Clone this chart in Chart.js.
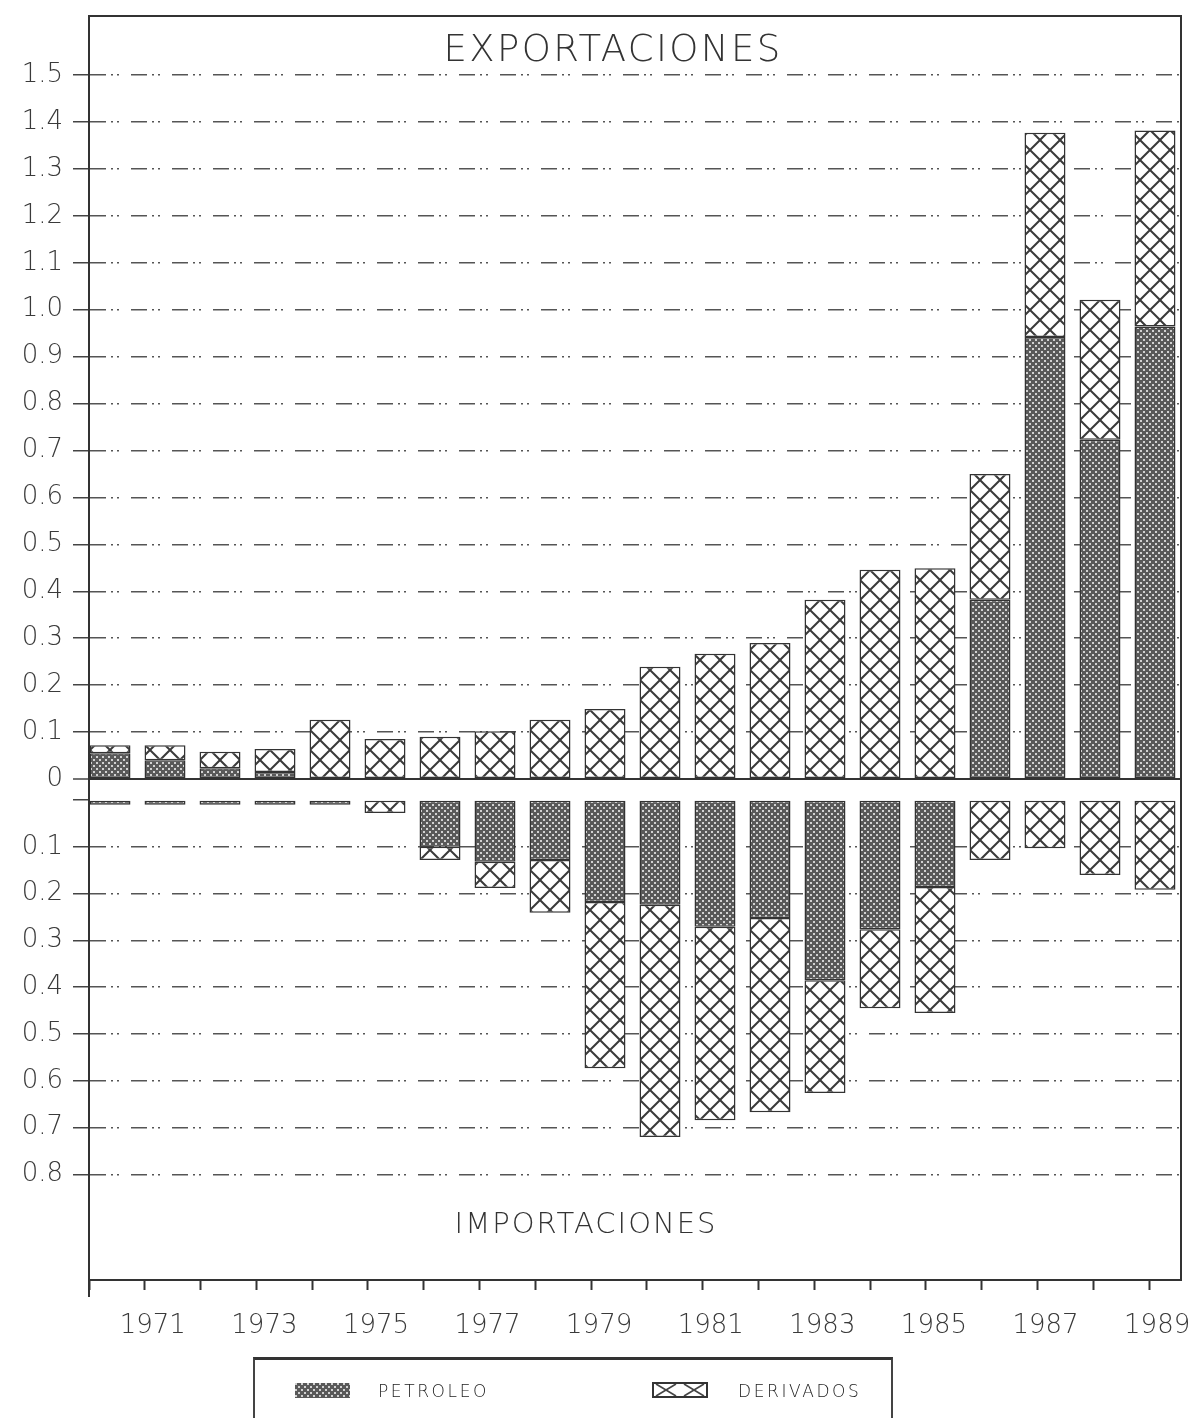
<!DOCTYPE html>
<html>
<head>
<meta charset="utf-8">
<script src="https://cdn.jsdelivr.net/npm/chart.js@4.4.1/dist/chart.umd.min.js"></script>
<style>
html,body{margin:0;padding:0;background:#fff;overflow:hidden;}
#wrap{position:relative;width:1196px;height:1418px;overflow:hidden;}
#c{position:absolute;left:0;top:0;}
.t{position:absolute;font-family:'DejaVu Sans',sans-serif;font-weight:200;color:#333;white-space:nowrap;transform:translate(-50%,-50%);}
#t1{left:613px;top:48px;font-size:37px;letter-spacing:2.4px;}
#t2{left:586px;top:1223px;font-size:29px;letter-spacing:2px;}
#legend{position:absolute;left:253px;top:1357px;width:636px;height:100px;border-top:3px solid #333;border-left:2px solid #444;border-right:2px solid #444;}
#legend canvas{position:absolute;}
#legend span{position:absolute;font-family:'DejaVu Sans',sans-serif;font-weight:200;font-size:17px;letter-spacing:2.6px;color:#222;transform:translateY(-50%);white-space:nowrap;}
</style>
</head>
<body>
<div id="wrap">
  <canvas id="c" width="1196" height="1418"></canvas>
  <div class="t" id="t1">EXPORTACIONES</div>
  <div class="t" id="t2">IMPORTACIONES</div>
  <div id="legend">
    <canvas id="sw1" width="55" height="15" style="left:40px;top:23px"></canvas>
    <span style="left:123px;top:31px">PETROLEO</span>
    <canvas id="sw2" width="56" height="16" style="left:397px;top:22px"></canvas>
    <span style="left:483px;top:31px">DERIVADOS</span>
  </div>
</div>
<script>
// ---- data ----
const years = [1970,1971,1972,1973,1974,1975,1976,1977,1978,1979,1980,1981,1982,1983,1984,1985,1986,1987,1988,1989];
const tickYears = [1971,1973,1975,1977,1979,1981,1983,1985,1987,1989];
const expTicks = [0,0.1,0.2,0.3,0.4,0.5,0.6,0.7,0.8,0.9,1.0,1.1,1.2,1.3,1.4,1.5];
const impTicks = [0,0.1,0.2,0.3,0.4,0.5,0.6,0.7,0.8];
const expPetroleo  = [0.055,0.040,0.023,0.015,0,0,0,0,0,0,0,0,0,0,0,0,0.382,0.942,0.723,0.964];
const expDerivados = [0.017,0.032,0.035,0.049,0.126,0.085,0.090,0.102,0.126,0.149,0.239,0.267,0.290,0.382,0.446,0.449,0.268,0.435,0.298,0.418];
const impPetroleo  = [0.010,0.010,0.010,0.010,0.010,0,0.100,0.132,0.128,0.218,0.224,0.271,0.252,0.385,0.276,0.186,0,0,0,0];
const impDerivados = [0,0,0,0,0,0.028,0.028,0.056,0.113,0.355,0.496,0.413,0.415,0.241,0.169,0.269,0.128,0.103,0.160,0.192];

// ---- patterns ----
function dotTile(){
  const c=document.createElement('canvas'); c.width=6; c.height=6;
  const g=c.getContext('2d');
  g.fillStyle='#595959'; g.fillRect(0,0,6,6);
  g.fillStyle='#d2d2d2'; g.fillRect(0,0,2,2); g.fillRect(3,3,2,2);
  return c;
}
function crossTile(){
  const n=20; const c=document.createElement('canvas'); c.width=n; c.height=n;
  const g=c.getContext('2d');
  g.fillStyle='#ffffff'; g.fillRect(0,0,n,n);
  g.strokeStyle='#3a3a3a'; g.lineWidth=2;
  for(const k of [-n,0,n]){
    g.beginPath(); g.moveTo(-5,-5+k); g.lineTo(n+5,n+5+k); g.stroke();
    g.beginPath(); g.moveTo(n+5,-5+k); g.lineTo(-5,n+5+k); g.stroke();
  }
  return c;
}
const ctx0=document.getElementById('c').getContext('2d');
const dots=ctx0.createPattern(dotTile(),'repeat');
const cross=ctx0.createPattern(crossTile(),'repeat');

// legend swatches
(function(){
  const a=document.getElementById('sw1').getContext('2d');
  a.fillStyle=a.createPattern(dotTile(),'repeat'); a.fillRect(0,0,55,15);
  const b=document.getElementById('sw2').getContext('2d');
  b.fillStyle='#fff'; b.fillRect(0,0,56,16);
  b.strokeStyle='#444'; b.lineWidth=1.6;
  for(const x0 of [0,28]){
    b.beginPath(); b.moveTo(x0+4,2); b.lineTo(x0+24,14); b.stroke();
    b.beginPath(); b.moveTo(x0+24,2); b.lineTo(x0+4,14); b.stroke();
  }
  b.strokeStyle='#333'; b.lineWidth=2; b.strokeRect(1,1,54,14);
})();

// ---- chart ----
const FONT='DejaVu Sans';
const xMin=1969.618, xMax=1989.473, tickStep=1.0145;
const dashPat=[16,5,2,4,2,12];
const border='#333';
const labelColor='#3a3a3a';

const framePlugin={
  id:'frame',
  afterDraw(chart){
    const {ctx,chartArea:a}=chart;
    ctx.save();
    ctx.strokeStyle='#333'; ctx.lineWidth=2;
    ctx.beginPath();
    ctx.moveTo(a.left-1,a.top); ctx.lineTo(a.right,a.top); ctx.lineTo(a.right,a.bottom);
    ctx.moveTo(a.left,a.bottom); ctx.lineTo(a.left,a.bottom+17);
    ctx.stroke();
    ctx.restore();
  }
};

function mk(arr){ return years.map((yr,i)=>({x:yr,y:arr[i]})); }
function noPad(s){ s.paddingTop=0; s.paddingBottom=0; s.paddingLeft=0; s.paddingRight=0; }

new Chart(document.getElementById('c'),{
  type:'bar',
  data:{
    datasets:[
      {label:'PETROLEO',data:mk(expPetroleo),backgroundColor:dots,borderColor:border,borderWidth:1.5,borderSkipped:false,yAxisID:'y',stack:'s'},
      {label:'DERIVADOS',data:mk(expDerivados),backgroundColor:cross,borderColor:border,borderWidth:1.5,borderSkipped:false,yAxisID:'y',stack:'s'},
      {label:'PETROLEO importaciones',data:mk(impPetroleo),backgroundColor:dots,borderColor:border,borderWidth:1.5,borderSkipped:false,yAxisID:'y2',stack:'s'},
      {label:'DERIVADOS importaciones',data:mk(impDerivados),backgroundColor:cross,borderColor:border,borderWidth:1.5,borderSkipped:false,yAxisID:'y2',stack:'s'}
    ]
  },
  options:{
    responsive:false,
    animation:false,
    devicePixelRatio:1,
    barPercentage:0.745,
    categoryPercentage:1,
    layout:{padding:{top:16,right:15,left:0,bottom:0}},
    plugins:{legend:{display:false},tooltip:{enabled:false},title:{display:false}},
    scales:{
      x:{
        type:'linear',min:xMin,max:xMax,offset:false,
        grid:{offset:false,drawOnChartArea:false,drawTicks:true,tickLength:10,tickColor:'#333',tickWidth:2},
        border:{display:true,color:'#333',width:2},
        afterBuildTicks:s=>{ s.ticks=years.map((yr,i)=>({value:xMin+i*tickStep})); },
        afterFit:s=>{ s.height=138; noPad(s); },
        ticks:{autoSkip:false,maxRotation:0,minRotation:0,labelOffset:8,padding:21,color:labelColor,
          font:{family:FONT,size:26,weight:'200'},
          callback:(v,i)=> tickYears.includes(years[i]) ? String(years[i]) : ''}
      },
      y:{
        type:'linear',position:'left',stack:'v',stackWeight:763,weight:2,stacked:true,
        min:0,max:1.6258,
        afterBuildTicks:s=>{ s.ticks=expTicks.map(v=>({value:v})); },
        afterFit:s=>{ s.width=89; noPad(s); },
        grid:{
          color:c=> (c.tick && c.tick.value===0) ? '#333' : '#555',
          lineWidth:c=> (c.tick && c.tick.value===0) ? 2 : 1.5,
          drawTicks:true,tickLength:16,tickColor:'#444',tickWidth:1.5
        },
        border:{display:true,color:'#333',width:2,dash:c=> (c.tick && c.tick.value===0) ? [] : dashPat},
        ticks:{autoSkip:false,color:labelColor,padding:10,font:{family:FONT,size:26,weight:'200'},
          callback:v=> v===0 ? '0' : Number(v).toFixed(1)}
      },
      y2:{
        type:'linear',position:'left',stack:'v',stackWeight:501,weight:1,stacked:true,reverse:true,
        min:-0.0449,max:1.0256,
        afterBuildTicks:s=>{ s.ticks=impTicks.map(v=>({value:v})); },
        afterFit:s=>{ s.width=89; noPad(s); },
        grid:{
          color:c=> (c.tick && c.tick.value===0) ? 'rgba(0,0,0,0)' : '#555',
          lineWidth:1.5,
          drawTicks:true,tickLength:16,tickColor:'#444',tickWidth:1.5
        },
        border:{display:true,color:'#333',width:2,dash:dashPat},
        ticks:{autoSkip:false,color:labelColor,padding:10,font:{family:FONT,size:26,weight:'200'},
          callback:v=> v===0 ? '' : Number(v).toFixed(1)}
      }
    }
  },
  plugins:[framePlugin]
});
</script>
</body>
</html>
